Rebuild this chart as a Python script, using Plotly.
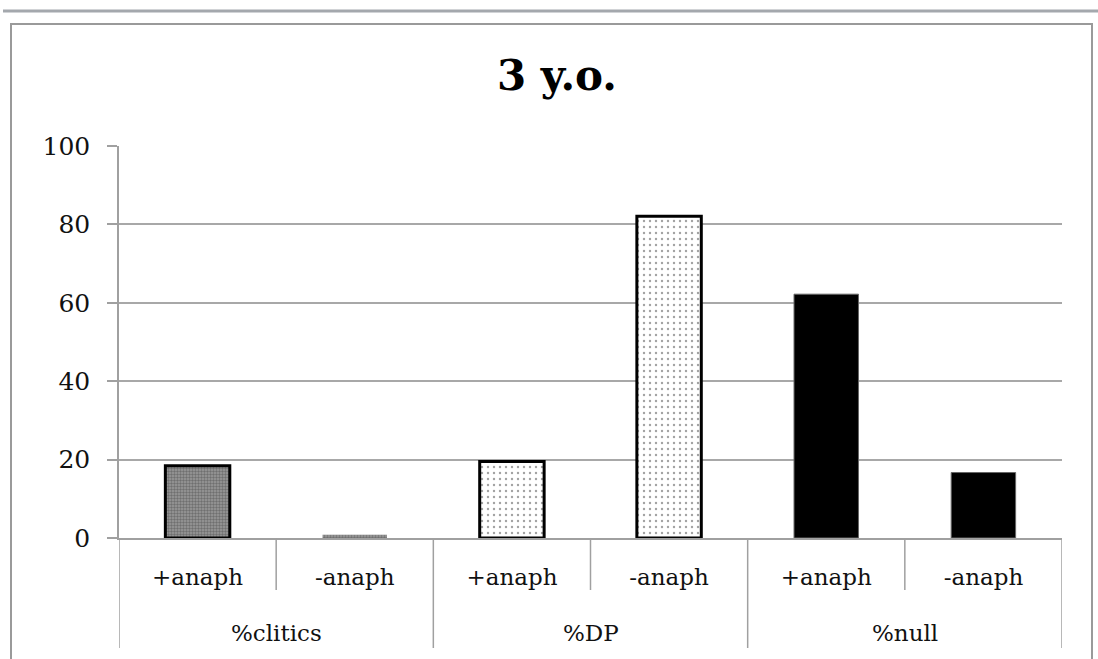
import plotly.graph_objects as go

# Data
groups = ["%clitics", "%DP", "%null"]
conditions = ["+anaph", "-anaph", "+anaph", "-anaph", "+anaph", "-anaph"]
values = [18.4, 0.8, 19.5, 82.1, 62.2, 16.7]
y_ticks = [0, 20, 40, 60, 80, 100]

# Per-bar styling
bg_colors = ["#9a9a9a", "#9a9a9a", "white", "white", "black", "black"]
fg_colors = ["#222222", "#222222", "black", "black", "black", "black"]
shapes = [".", ".", ".", ".", "", ""]
sizes = [3, 3, 6, 6, 6, 6]
solidities = [0.5, 0.5, 0.12, 0.12, 0.3, 0.3]
line_widths = [3, 0, 3, 3, 1, 1]
line_colors = ["black", "black", "black", "black", "#666666", "#666666"]

FONT = "DejaVu Serif"
TEXT = "#111111"
AXIS_GRAY = "#a0a0a0"
W, H = 1098, 659
L, R, T, B = 119, 36, 146, 121
pw, ph = W - L - R, H - T - B

n = len(conditions)
xpos = list(range(n))
per_group = n // len(groups)


def px_x(x):
    return (x - L) / pw


def px_y(y):
    return (H - B - y) / ph


fig = go.Figure()
fig.add_trace(go.Bar(
    x=xpos,
    y=values,
    width=0.41,
    marker=dict(
        color=bg_colors,
        pattern=dict(
            shape=shapes,
            fgcolor=fg_colors,
            bgcolor=bg_colors,
            size=sizes,
            solidity=solidities,
        ),
        line=dict(width=line_widths, color=line_colors),
    ),
    showlegend=False,
))

fig.update_layout(
    width=W,
    height=H,
    margin=dict(l=L, r=R, t=T, b=B, pad=0),
    paper_bgcolor="white",
    plot_bgcolor="white",
    font=dict(family=FONT, color=TEXT, size=23),
    xaxis=dict(
        range=[-0.5, n - 0.5],
        tickvals=xpos,
        ticktext=conditions,
        ticks="",
        showline=True,
        linecolor=AXIS_GRAY,
        linewidth=1.5,
        showgrid=False,
        zeroline=False,
        ticklabelstandoff=18,
        tickfont=dict(family=FONT, size=23, color=TEXT),
    ),
    yaxis=dict(
        range=[0, 100],
        tickvals=y_ticks,
        showline=True,
        linecolor=AXIS_GRAY,
        linewidth=1.5,
        ticks="outside",
        ticklen=10,
        tickcolor=AXIS_GRAY,
        tickwidth=1.5,
        showgrid=True,
        gridcolor="#a8a8a8",
        gridwidth=1.5,
        zeroline=False,
        ticklabelstandoff=12,
        tickfont=dict(family=FONT, size=25, color=TEXT),
    ),
)

# Category dividers below the axis: short between conditions, long between groups
for k in range(n + 1):
    boundary = k - 0.5
    is_group_edge = k % per_group == 0
    fig.add_shape(
        type="line", xref="x", yref="paper",
        x0=boundary, x1=boundary,
        y0=0, y1=px_y(648 if is_group_edge else 590),
        line=dict(color=AXIS_GRAY, width=1.5),
    )

# Group labels
for g, name in enumerate(groups):
    center = g * per_group + (per_group - 1) / 2
    fig.add_annotation(
        text=name, xref="x", yref="paper",
        x=center, y=px_y(633),
        xanchor="center", yanchor="middle",
        showarrow=False,
        font=dict(family=FONT, size=23, color=TEXT),
    )

# Title
fig.add_annotation(
    text="<b>3 y.o.</b>",
    xref="paper", yref="paper",
    x=px_x(557), y=px_y(76),
    xanchor="center", yanchor="middle",
    showarrow=False,
    font=dict(family=FONT, size=42, color="black"),
)

# Chart frame
fig.add_shape(
    type="line", xref="paper", yref="paper",
    x0=px_x(3), x1=px_x(1098), y0=px_y(11), y1=px_y(11),
    line=dict(color="#a4a8ad", width=3),
)
fig.add_shape(
    type="path", xref="paper", yref="paper",
    path=f"M {px_x(11)} {px_y(700)} L {px_x(11)} {px_y(24)} L {px_x(1092)} {px_y(24)} L {px_x(1092)} {px_y(700)}",
    line=dict(color="#9a9a9a", width=2),
)

fig.write_html("out.html")
